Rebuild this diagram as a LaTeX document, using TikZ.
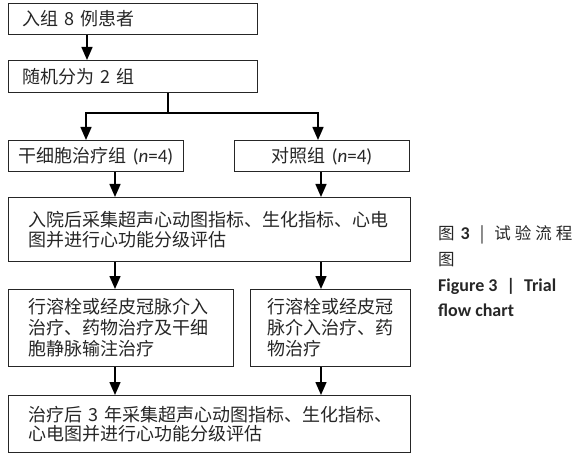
\documentclass[tikz,border=0pt]{standalone}
\usepackage{fontspec}
\setmainfont{Noto Sans CJK SC}
\newfontfamily\capfont{Carlito}
\usetikzlibrary{arrows.meta}
\begin{document}
\begin{tikzpicture}[x=1pt,y=-1pt,
  box/.style={draw=black!85, line width=1.1pt, anchor=north west, align=left,
    inner ysep=0pt, font=\fontsize{18}{20}\selectfont, text=black!85},
  cbox/.style={box, align=center, inner xsep=0pt},
  conn/.style={line width=1.5pt, draw=black},
  arr/.style={conn, -{Triangle[length=13pt,width=11pt]}},
  captxt/.style={anchor=west, inner sep=0pt, text=black!85, font=\fontsize{16.5}{18}\selectfont}]
\useasboundingbox (0,0) rectangle (581,457);
% boxes
\node[box, inner xsep=14pt, text width=221pt, minimum height=31pt] (b1) at (8,3) {入组 8 例患者};
\node[box, inner xsep=14pt, text width=221pt, minimum height=32pt] (b2) at (8,60) {随机分为 2 组};
\node[cbox, text width=175pt, minimum height=31pt] (b3) at (8,140) {干细胞治疗组 {\capfont\fontsize{19}{20}\selectfont(\textit{n}=4)}};
\node[cbox, text width=175pt, minimum height=31pt] (b4) at (234,140) {对照组 {\capfont\fontsize{19}{20}\selectfont(\textit{n}=4)}};
\node[box, inner xsep=20pt, text width=362pt, minimum height=64pt] (b5) at (8,197)
  {入院后采集超声心动图指标、生化指标、心电\\图并进行心功能分级评估};
\node[box, inner xsep=20pt, text width=185pt, minimum height=77pt, font=\fontsize{18}{21}\selectfont] (b6) at (8,289)
  {行溶栓或经皮冠脉介入\\治疗、药物治疗及干细\\胞静脉输注治疗};
\node[box, inner xsep=17pt, text width=126pt, minimum height=77pt, font=\fontsize{18}{21}\selectfont] (b7) at (250,289)
  {行溶栓或经皮冠\\脉介入治疗、药\\物治疗};
\node[box, inner xsep=20pt, text width=362pt, minimum height=57pt, font=\fontsize{18}{19}\selectfont] (b8) at (8,395)
  {治疗后 3 年采集超声心动图指标、生化指标、\\心电图并进行心功能分级评估};
% connector coordinates
\coordinate (c1) at (87,0);
\coordinate (sp) at (168,113);
\coordinate (spl) at (86,113);
\coordinate (spr) at (318,113);
\coordinate (cl) at (115,0);
\coordinate (cr) at (321,0);
% connectors
\draw[arr] (b1.south -| c1) -- (b2.north -| c1);
\draw[conn] (b2.south -| sp) -- (sp);
\draw[arr] (sp) -| (b3.north -| spl);
\draw[arr] (sp) -| (b4.north -| spr);
\draw[arr] (b3.south -| cl) -- (b5.north -| cl);
\draw[arr] (b4.south -| cr) -- (b5.north -| cr);
\draw[arr] (b5.south -| cl) -- (b6.north -| cl);
\draw[arr] (b5.south -| cr) -- (b7.north -| cr);
\draw[arr] (b6.south -| cl) -- (b8.north -| cl);
\draw[arr] (b7.south -| cr) -- (b8.north -| cr);
% caption
\node[captxt] (cap1) at (438,235) {图\hspace{6pt}{\capfont\bfseries\fontsize{18}{18}\selectfont 3}\hspace{10pt}|\hspace{10pt}试\hspace{4pt}验\hspace{4pt}流\hspace{4pt}程};
\node[captxt] (cap2) at (438,260) {图};
\node[captxt, font=\capfont\bfseries\fontsize{18}{18}\selectfont] (cap3) at (438,286) {Figure 3\hspace{9pt}|\hspace{9pt}Trial};
\node[captxt, font=\capfont\bfseries\fontsize{18}{18}\selectfont] (cap4) at (438,310) {flow chart};
\end{tikzpicture}
\end{document}
